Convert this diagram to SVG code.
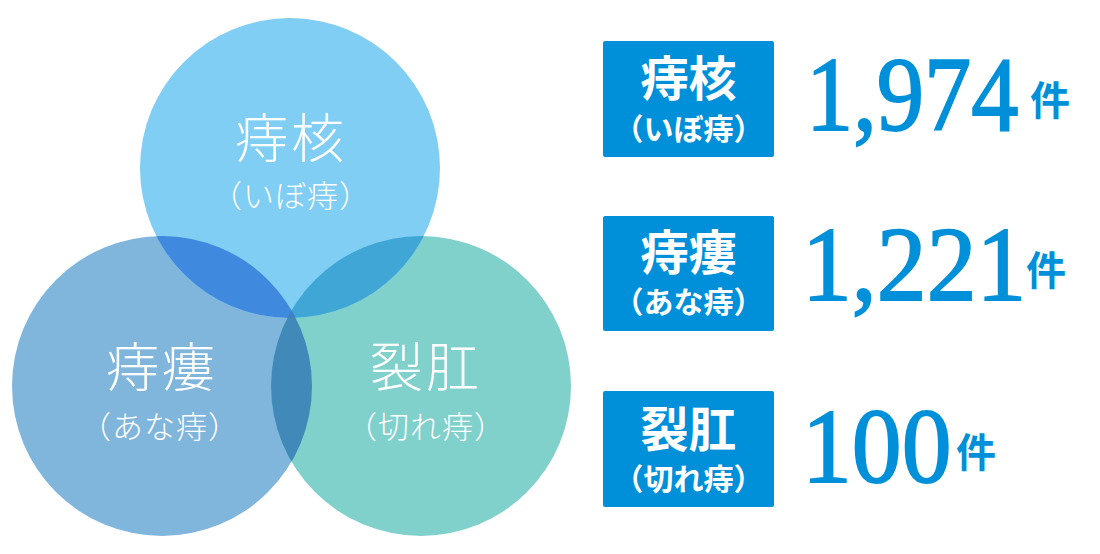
<svg xmlns="http://www.w3.org/2000/svg" width="1100" height="554" viewBox="0 0 1100 554">
<style>
.ct{font-family:"Noto Sans CJK JP","Noto Sans CJK SC",sans-serif;font-weight:300;fill:#fff;text-anchor:middle}
.big{font-size:53px;letter-spacing:3px}
.sm{font-size:31px;letter-spacing:1px}
.box{fill:#0090d9}
.bt{font-family:"Noto Sans CJK JP","Noto Sans CJK SC",sans-serif;font-weight:700;fill:#fff;text-anchor:middle}
.num{font-family:"Liberation Serif","Times New Roman",serif;font-size:105px;fill:#0090d9;stroke:#0090d9;stroke-width:1.8}
.ken{font-family:"Noto Sans CJK JP","Noto Sans CJK SC",sans-serif;font-weight:700;font-size:40px;fill:#0090d9}
</style>
<defs>
<clipPath id="cT"><circle cx="290" cy="168" r="150"/></clipPath>
<clipPath id="cL"><circle cx="162" cy="386" r="150"/></clipPath>
<clipPath id="cR"><circle cx="421" cy="386" r="150"/></clipPath>
</defs>
<rect width="1100" height="554" fill="#fff"/>
<g id="venn">
<circle cx="162" cy="386" r="150" fill="#80b5dc"/>
<circle cx="421" cy="386" r="150" fill="#80d0cb"/>
<circle cx="290" cy="168" r="150" fill="#80cef3"/>
<g clip-path="url(#cT)"><circle cx="162" cy="386" r="150" fill="#3f89de"/></g>
<g clip-path="url(#cT)"><circle cx="421" cy="386" r="150" fill="#3fa6d6"/></g>
<g clip-path="url(#cL)"><circle cx="421" cy="386" r="150" fill="#4189b8"/></g>
<g clip-path="url(#cT)"><g clip-path="url(#cL)"><circle cx="421" cy="386" r="150" fill="#3f7fc4"/></g></g>
</g>
<g id="node-top">
<text class="ct big" x="291" y="158">痔核</text>
<text class="ct sm" x="291" y="207">（いぼ痔）</text>
</g>
<g id="node-left">
<text class="ct big" x="162" y="387">痔瘻</text>
<text class="ct sm" x="160" y="438">（あな痔）</text>
</g>
<g id="node-right">
<text class="ct big" x="426" y="387">裂肛</text>
<text class="ct sm" x="426" y="438">（切れ痔）</text>
</g>
<g id="stat-1">
<rect class="box" x="603" y="41" width="171" height="116" rx="2"/>
<text class="bt" x="688.5" y="96" font-size="48">痔核</text>
<text class="bt" x="688.5" y="140" font-size="30">（いぼ痔）</text>
<text class="num" transform="translate(806,130) scale(0.9,1)">1,974</text>
<text class="ken" x="1030" y="115">件</text>
</g>
<g id="stat-2">
<rect class="box" x="603" y="216" width="171" height="115" rx="2"/>
<text class="bt" x="688.5" y="270" font-size="48">痔瘻</text>
<text class="bt" x="688.5" y="313" font-size="30">（あな痔）</text>
<text class="num" transform="translate(802,300) scale(0.95,1)">1,221</text>
<text class="ken" x="1026" y="285">件</text>
</g>
<g id="stat-3">
<rect class="box" x="603" y="391" width="171" height="116" rx="2"/>
<text class="bt" x="688.5" y="447" font-size="48">裂肛</text>
<text class="bt" x="688.5" y="490" font-size="30">（切れ痔）</text>
<text class="num" transform="translate(802,482) scale(0.95,1)">100</text>
<text class="ken" x="956" y="467">件</text>
</g>
</svg>
